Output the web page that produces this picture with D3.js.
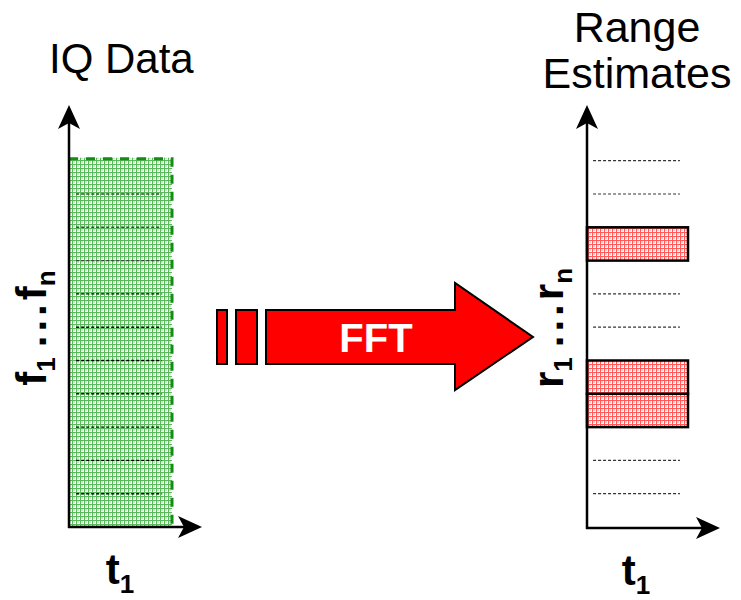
<!DOCTYPE html>
<html><head><meta charset="utf-8">
<script src="https://cdn.jsdelivr.net/npm/d3@7"></script>
<style>html,body{margin:0;padding:0;background:#fff;}svg{display:block;}</style>
</head><body>
<svg id="c" width="741" height="600"></svg>
<script>
// ---- data ----
const bins = ["1","2","3","4","5","6","7","8","9","10","11"];   // frequency / range bins
const leftGridBoundaries = [1,2,3,4,5,6,7,8,9,10];             // dotted separators in IQ data
const rightGridBoundaries = [1,2,6,7,10,11];                   // dotted empty bins in range estimates
const rightBoxBins = [3,4,8];                                   // detected range bins
const titles = {left:"IQ Data", right:["Range","Estimates"]};
const fftLabel = "FFT";

const svg = d3.select("#c");
const defs = svg.append("defs");

function makePattern(id, bg, line){
  const p = defs.append("pattern").attr("id",id).attr("patternUnits","userSpaceOnUse")
    .attr("width",4).attr("height",4);
  p.append("rect").attr("width",4).attr("height",4).attr("fill","#fff");
  p.append("rect").attr("x",1).attr("y",1).attr("width",2).attr("height",2).attr("fill",bg);
  p.append("rect").attr("x",0).attr("y",0).attr("width",4).attr("height",1).attr("fill",line);
  p.append("rect").attr("x",0).attr("y",0).attr("width",1).attr("height",4).attr("fill",line);
}
makePattern("gpat","#c6e8c6","#5cb85c");
makePattern("rpat","#ffcccc","#ff5a5a");

// scales
const y = d3.scaleLinear().domain([0, bins.length]).range([527, 160.7]);
const xL = d3.scaleLinear().domain([0,1]).range([69,172]);
const xR = d3.scaleLinear().domain([0,1]).range([587,688]);

function arrowHead(g, tx, ty, dir){
  let pts;
  if(dir==="up") pts=[[tx,ty],[tx-11,ty+24],[tx,ty+18],[tx+11,ty+24]];
  else pts=[[tx,ty],[tx-24,ty-11],[tx-18,ty],[tx-24,ty+11]];
  g.append("path").attr("d", d3.line()(pts)+"Z").attr("fill","#000");
}

// ---- left panel ----
const L = svg.append("g");
L.append("rect").attr("x",xL(0)).attr("y",y(bins.length)-3).attr("width",xL(1)-xL(0))
  .attr("height",y(0)-y(bins.length)+3).attr("fill","url(#gpat)");
L.append("path").attr("d",`M${xL(0)},${y(bins.length)-2}H${xL(1)}V${y(0)}`)
  .attr("fill","none").attr("stroke","#158c15").attr("stroke-width",3).attr("stroke-dasharray","9,8");
L.selectAll("line.g").data(leftGridBoundaries).join("line")
  .attr("x1",xL(0.07)).attr("x2",xL(0.9)).attr("y1",d=>y(d)).attr("y2",d=>y(d))
  .attr("stroke",(d,i)=>i<7?"#000":"#444").attr("stroke-width",1.4).attr("stroke-dasharray","3,2");
L.append("line").attr("x1",69).attr("y1",528).attr("x2",69).attr("y2",112).attr("stroke","#000").attr("stroke-width",2.5);
L.append("line").attr("x1",68).attr("y1",527).attr("x2",195).attr("y2",527).attr("stroke","#000").attr("stroke-width",2.5);
arrowHead(L,69,105,"up");
arrowHead(L,202,527,"right");

// ---- right panel ----
const R = svg.append("g");
R.selectAll("line.g").data(rightGridBoundaries).join("line")
  .attr("x1",xR(0.06)).attr("x2",xR(0.92)).attr("y1",d=>y(d)).attr("y2",d=>y(d))
  .attr("stroke","#333").attr("stroke-width",1.2).attr("stroke-dasharray","3,2");
R.selectAll("rect.b").data(rightBoxBins).join("rect")
  .attr("x",xR(0)).attr("y",d=>y(d+1)).attr("width",xR(1)-xR(0)).attr("height",d=>y(d)-y(d+1))
  .attr("fill","url(#rpat)").attr("stroke","#000").attr("stroke-width",2.5);
R.append("line").attr("x1",587).attr("y1",529).attr("x2",587).attr("y2",112).attr("stroke","#000").attr("stroke-width",2.5);
R.append("line").attr("x1",586).attr("y1",528).attr("x2",713).attr("y2",528).attr("stroke","#000").attr("stroke-width",2.5);
arrowHead(R,587,105,"up");
arrowHead(R,720,528,"right");

// ---- FFT arrow ----
const A = svg.append("g").attr("stroke","#000").attr("stroke-width",2).attr("fill","#ff0000");
A.append("rect").attr("x",217).attr("y",310).attr("width",10).attr("height",54);
A.append("rect").attr("x",236).attr("y",310).attr("width",21).attr("height",54);
A.append("path").attr("d",d3.line()([[266,310],[455,310],[455,283],[533,337],[455,390],[455,364],[266,364]])+"Z");
svg.append("text").attr("x",376).attr("y",352).attr("text-anchor","middle")
  .attr("font-family","Liberation Sans, Arial, sans-serif").attr("font-weight","bold")
  .attr("font-size",40).attr("fill","#fff").text(fftLabel);

// ---- text ----
const font = "Liberation Sans, Arial, sans-serif";
svg.append("text").attr("x",49).attr("y",73).attr("font-family",font).attr("font-size",42).text(titles.left);
svg.selectAll("text.rt").data(titles.right).join("text")
  .attr("x",637).attr("y",(d,i)=>42+i*46).attr("text-anchor","middle")
  .attr("font-family",font).attr("font-size",43).text(d=>d);

function subLabel(x, yy, rot, main1, sub1, main2, sub2){
  const t = svg.append("text").attr("transform",`translate(${x},${yy})`+(rot?" rotate(-90)":""))
    .attr("text-anchor","middle").attr("font-family",font).attr("font-weight","bold").attr("font-size",42);
  t.append("tspan").text(main1);
  t.append("tspan").attr("dy",9).attr("font-size",26).text(sub1);
  if(main2!==undefined){
    t.append("tspan").attr("dy",-9).attr("letter-spacing",4).attr("dx",10).text("...");
    t.append("tspan").text(main2);
    t.append("tspan").attr("dy",9).attr("font-size",26).text(sub2);
  }
}
subLabel(46,328,true,"f","1","f","n");
subLabel(563,328,true,"r","1","r","n");
subLabel(120,584,false,"t","1");
subLabel(636,585,false,"t","1");
</script>
</body></html>
